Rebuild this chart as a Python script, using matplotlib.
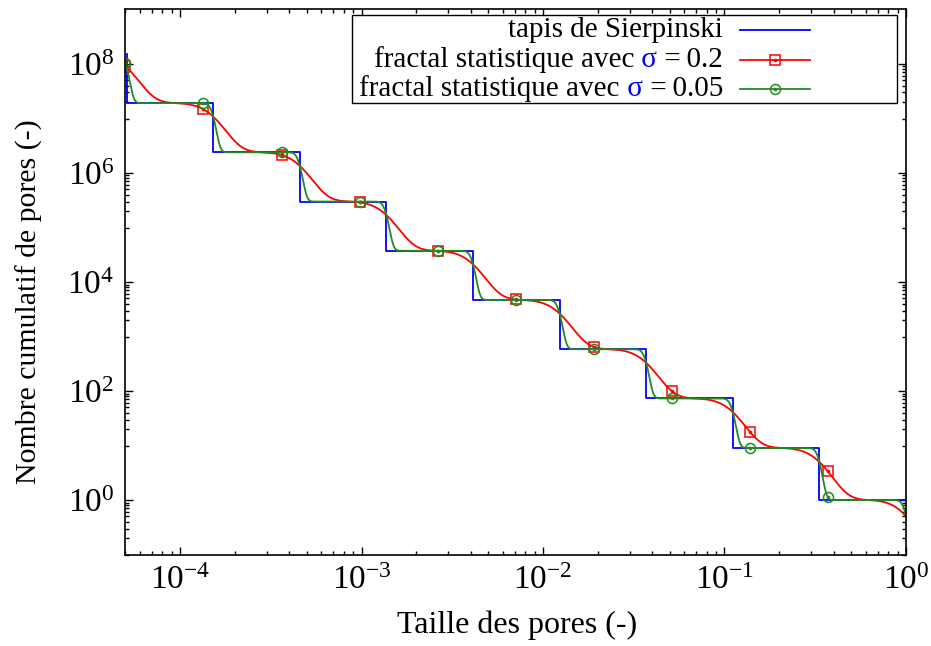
import math
import numpy as np
import matplotlib
matplotlib.use("Agg")
import matplotlib.pyplot as plt
from matplotlib.lines import Line2D
from matplotlib.patches import Rectangle
from matplotlib.ticker import FixedLocator, NullFormatter, LogLocator

plt.rcParams["font.family"] = ["Liberation Serif", "DejaVu Serif"]
plt.rcParams["mathtext.fontset"] = "custom"
plt.rcParams["mathtext.rm"] = "Liberation Serif"
plt.rcParams["mathtext.it"] = "Liberation Serif:italic"

# taille des pores de chaque niveau du tapis et nombre de pores par niveau
pore_sizes = [1.0, 1 / 3, 1 / 9, 1 / 27, 1 / 81, 1 / 243, 1 / 729, 1 / 2187, 1 / 6561, 1 / 19683]
pore_counts = [1, 8, 64, 512, 4096, 32768, 262144, 2097152, 16777216, 134217728]
# écart-type (log) de la distribution autour de chaque taille
sigmas = [0.2, 0.05]
sigma_labels = ["0.2", "0.05"]
x_range = (5e-5, 1.0)
y_range = (1e-1, 1e9)
y_major = [1e0, 1e2, 1e4, 1e6, 1e8]

S = np.array(pore_sizes)
N = np.array(pore_counts, dtype=float)
erfc = np.vectorize(math.erfc)


def cumul_stat(r, sigma):
    # nombre de pores de taille >= r, tailles log-normales autour de S
    z = np.log(r[:, None] / S[None, :]) / (sigma * math.sqrt(2))
    return (N[None, :] * 0.5 * erfc(z)).sum(axis=1)


xs = np.sort(S)
cum = np.array([N[S >= v].sum() for v in xs])
r = np.logspace(np.log10(x_range[0]), np.log10(x_range[1]), 1001)
mk = slice(0, 1000, 100)

fig = plt.figure(figsize=(9.31, 6.46), dpi=100)
ax = fig.add_axes([0.1347, 0.1416, 0.8384, 0.8437])
ax.set_xscale("log")
ax.set_yscale("log")

ax.step(xs, cum, where="pre", color="#0000ff", lw=1.3)
styles = [("#ff0000", "s", 7), ("#228b22", "o", 7.2)]
for sig, (col, m, ms) in zip(sigmas, styles):
    y = cumul_stat(r, sig)
    ax.plot(r, y, color=col, lw=1.3, marker=m, ms=ms, mfc="none", mec=col,
            mew=1.1, markevery=mk)
    ax.plot(r[mk], y[mk], ls="none", marker="o", ms=1.6, color=col)

ax.set_xlim(*x_range)
ax.set_ylim(*y_range)

ax.yaxis.set_major_locator(FixedLocator(y_major))
ax.yaxis.set_minor_locator(FixedLocator([k * v / 10 for v in y_major for k in range(1, 10)]))
ax.yaxis.set_minor_formatter(NullFormatter())
ax.xaxis.set_minor_locator(LogLocator(subs=np.arange(2, 10), numticks=50))
ax.xaxis.set_minor_formatter(NullFormatter())

ax.tick_params(which="both", direction="in", top=True, right=True, width=1.0,
               labelsize=24)
ax.tick_params(which="major", length=6, pad=8)
ax.tick_params(which="minor", length=3)
for sp in ax.spines.values():
    sp.set_linewidth(1.2)

ax.set_xlabel("Taille des pores (-)", fontsize=23, va="top")
ax.xaxis.set_label_coords(0.5017, -0.1018)
ax.set_ylabel("Nombre cumulatif de pores (-)", fontsize=21.5)
ax.yaxis.set_label_coords(-0.106, 0.4633)

# légende faite à la main pour avoir le sigma en bleu
ax.add_patch(Rectangle((0.2903, 0.8284), 0.6982, 0.1615, transform=ax.transAxes,
                       fill=True, fc="white", ec="black", lw=1.0, zorder=5))
rows_y = [0.9615, 0.9079, 0.8547]
x_txt, x0, x1 = 0.7656, 0.7873, 0.877
fs = 21
ax.add_line(Line2D([x0, x1], [rows_y[0]] * 2, transform=ax.transAxes, color="#0000ff",
                   lw=1.3, zorder=6))
ax.text(x_txt, rows_y[0], "tapis de Sierpinski", transform=ax.transAxes, ha="right",
        va="center", fontsize=fs, zorder=6)
for yy, lab, (col, m, ms) in zip(rows_y[1:], sigma_labels, styles):
    ax.add_line(Line2D([x0, x1], [yy] * 2, transform=ax.transAxes, color=col, lw=1.3,
                       zorder=6))
    ax.add_line(Line2D([(x0 + x1) / 2], [yy], transform=ax.transAxes, color=col, marker=m,
                       ms=ms, mfc="none", mew=1.1, zorder=6))
    ax.add_line(Line2D([(x0 + x1) / 2], [yy], transform=ax.transAxes, color=col, marker="o",
                       ms=1.6, zorder=6))
    t1 = ax.text(x_txt, yy, " =\u2009" + lab, transform=ax.transAxes, ha="right", va="center",
                 fontsize=fs, zorder=6)
    t2 = ax.annotate(" σ", xy=(0, 0), xycoords=t1, ha="right", va="bottom",
                     fontsize=fs, color="#0000ff", zorder=6)
    ax.annotate("fractal statistique avec", xy=(0, 0), xycoords=t2, ha="right",
                va="bottom", fontsize=fs, zorder=6)

fig.savefig("out.png", dpi=100)
